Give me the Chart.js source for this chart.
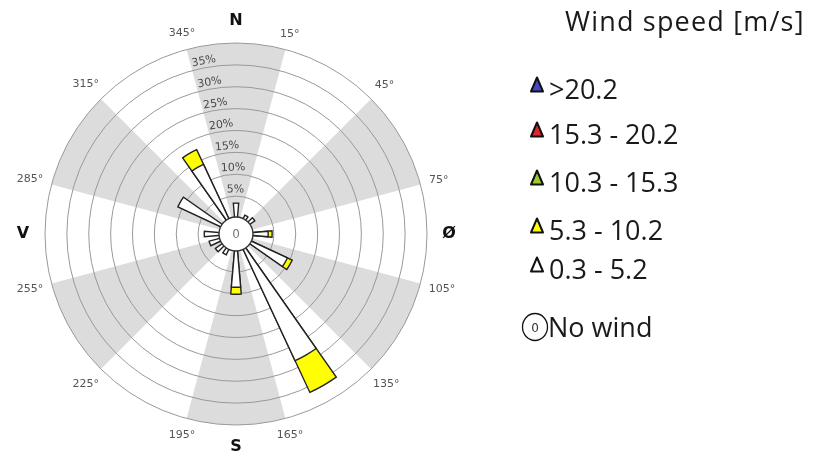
<!DOCTYPE html>
<html>
<head>
<meta charset="utf-8">
<script src="https://cdn.jsdelivr.net/npm/chart.js@4.4.0/dist/chart.umd.min.js"></script>
<style>
  html, body { margin: 0; padding: 0; background: #fff; }
  #wrap { position: relative; width: 832px; height: 457px; overflow: hidden; }
  #rose { position: absolute; left: 0; top: 0; }
  #legend { position: absolute; left: 0; top: 0; font-family: "Open Sans", sans-serif; color: #1a1a1a; }
  #legend .title { position: absolute; left: 565px; top: 5px; font-size: 27px; line-height: 32px; letter-spacing: 1.2px; white-space: nowrap; }
  #legend .item { position: absolute; white-space: nowrap; font-size: 27px; line-height: 32px; }
  #legend svg { position: absolute; }
</style>
</head>
<body>
<div id="wrap">
  <canvas id="rose" width="832" height="457"></canvas>
  <div id="legend"></div>
</div>
<script>
// 36 direction bins of 10 degrees
const directions = [0, 10, 20, 30, 40, 50, 60, 70, 80, 90, 100, 110, 120, 130, 140, 150, 160, 170,
  180, 190, 200, 210, 220, 230, 240, 250, 260, 270, 280, 290, 300, 310, 320, 330, 340, 350];

// frequency (%) per speed class and direction
const freq0to5 = [3.4, 0, 0, 1.1, 0, 1.6, 0, 0, 0, 3.7, 0, 0, 9.3, 0, 0, 28.3, 0, 0,
  8.5, 0, 0, 1.6, 0, 2.1, 0, 2.7, 0, 3.6, 0, 0, 11.0, 0, 0, 13.9, 0, 0];
const freq5to10 = [0, 0, 0, 0, 0, 0, 0, 0, 0, 0.9, 0, 0, 1.2, 0, 0, 8.0, 0, 0,
  1.6, 0, 0, 0, 0, 0, 0, 0, 0, 0, 0, 0, 0, 0, 0, 3.7, 0, 0];
const freq10to15 = new Array(36).fill(0);
const freq15to20 = new Array(36).fill(0);
const freqOver20 = new Array(36).fill(0);

const speedClasses = ["0.3 - 5.2", "5.3 - 10.2", "10.3 - 15.3", "15.3 - 20.2", ">20.2"];
const classColors = ["#ffffff", "#ffff00", "#9ccc2c", "#e3262a", "#4646c8"];

const pctTicks = [5, 10, 15, 20, 25, 30, 35, 40];
const degreeAngles = [15, 45, 75, 105, 135, 165, 195, 225, 255, 285, 315, 345];
const compassLabels = ["N", "Ø", "S", "V"];
const compassAngles = [0, 90, 180, 270];
const shadedSectors = [0, 60, 120, 180, 240, 300];
const calmLabel = "0";

// stack the classes: each ring is drawn from the centre out to its cumulative value
const classFreqs = [freq0to5, freq5to10, freq10to15, freq15to20, freqOver20];
let running = new Array(36).fill(0);
const datasets = classFreqs.map((f, c) => {
  running = running.map((v, i) => v + f[i]);
  return {
    label: speedClasses[c],
    data: running.map((v, i) => (f[i] > 0 ? +v.toFixed(2) : 0)),
    backgroundColor: classColors[c],
    borderColor: "#222",
    borderWidth: 1.4,
    borderJoinStyle: "miter"
  };
});

const rad = d => (d - 90) * Math.PI / 180;

const roseDecor = {
  id: "roseDecor",
  beforeDraw(chart) {
    const s = chart.scales.r, ctx = chart.ctx;
    const R = s.getDistanceFromCenterForValue(s.max);
    ctx.save();
    ctx.fillStyle = "#dcdcdc";
    shadedSectors.forEach(a => {
      ctx.beginPath();
      ctx.moveTo(s.xCenter, s.yCenter);
      ctx.arc(s.xCenter, s.yCenter, R, rad(a - 15), rad(a + 15));
      ctx.closePath();
      ctx.fill();
    });
    ctx.restore();
  },
  afterDatasetsDraw(chart) {
    const s = chart.scales.r, ctx = chart.ctx;
    const r0 = s.getDistanceFromCenterForValue(0) + 1;
    ctx.save();
    ctx.beginPath();
    ctx.arc(s.xCenter, s.yCenter, r0, 0, Math.PI * 2);
    ctx.fillStyle = "#fff";
    ctx.fill();
    ctx.lineWidth = 1.4;
    ctx.strokeStyle = "#333";
    ctx.stroke();
    ctx.fillStyle = "#777";
    ctx.font = "12px 'DejaVu Sans'";
    ctx.textAlign = "center";
    ctx.textBaseline = "middle";
    ctx.fillText(calmLabel, s.xCenter, s.yCenter + 1);
    ctx.restore();
  },
  afterDraw(chart) {
    const s = chart.scales.r, ctx = chart.ctx;
    const R = s.getDistanceFromCenterForValue(s.max);
    const cx = s.xCenter, cy = s.yCenter;
    ctx.save();
    // percentage labels along the 345 degree line
    ctx.font = "11px 'DejaVu Sans'";
    ctx.fillStyle = "#4a4a4a";
    ctx.textAlign = "center";
    ctx.textBaseline = "bottom";
    pctTicks.slice(0, -1).forEach(v => {
      const r = s.getDistanceFromCenterForValue(v) + 1;
      const txt = v + "%";
      const w = ctx.measureText(txt).width;
      const mid = -15 * Math.PI / 180 + (w / 2 + 1) / r;
      ctx.save();
      ctx.translate(cx, cy);
      ctx.rotate(mid);
      ctx.fillText(txt, 0, -r);
      ctx.restore();
    });
    // degree labels
    ctx.fillStyle = "#555";
    ctx.textBaseline = "middle";
    degreeAngles.forEach(a => {
      const txt = a + "°";
      const w = ctx.measureText(txt).width;
      const t = a * Math.PI / 180;
      const ext = Math.abs(Math.sin(t)) * w / 2 + Math.abs(Math.cos(t)) * 6;
      const r = R + 8 + ext;
      ctx.fillText(txt, cx + Math.sin(t) * r, cy - Math.cos(t) * r);
    });
    // compass letters
    ctx.font = "bold 16px 'DejaVu Sans'";
    ctx.fillStyle = "#111";
    compassLabels.forEach((l, i) => {
      const t = compassAngles[i] * Math.PI / 180;
      const r = R + 22;
      ctx.fillText(l, cx + Math.sin(t) * r, cy - Math.cos(t) * r);
    });
    ctx.restore();
  }
};

new Chart(document.getElementById("rose").getContext("2d"), {
  type: "polarArea",
  data: { labels: directions.map(d => d + "°"), datasets },
  options: {
    responsive: false,
    animation: false,
    layout: { padding: { left: 45, top: 43, right: 405, bottom: 32 } },
    plugins: { legend: { display: false }, tooltip: { enabled: false } },
    scales: {
      r: {
        min: -3.657,
        max: 40,
        startAngle: -5,
        afterBuildTicks: s => { s.ticks = pctTicks.map(v => ({ value: v })); },
        ticks: { display: false },
        grid: { color: "#999", lineWidth: 1 },
        angleLines: { display: false },
        pointLabels: { display: false }
      }
    }
  },
  plugins: [roseDecor]
});

// legend (top entry is the strongest class)
const ns = "http://www.w3.org/2000/svg";
const legend = document.getElementById("legend");
const title = document.createElement("div");
title.className = "title";
title.textContent = "Wind speed [m/s]";
legend.appendChild(title);
const legendY = [89, 134, 182, 230, 269];
speedClasses.slice().reverse().forEach((lbl, k) => {
  const c = classColors[classColors.length - 1 - k];
  const y = legendY[k];
  const svg = document.createElementNS(ns, "svg");
  svg.setAttribute("width", "16");
  svg.setAttribute("height", "17");
  svg.style.left = "529px";
  svg.style.top = (y - 13) + "px";
  const p = document.createElementNS(ns, "polygon");
  p.setAttribute("points", "8,1.5 14,15.5 2,15.5");
  p.setAttribute("fill", c);
  p.setAttribute("stroke", "#111");
  p.setAttribute("stroke-width", "2");
  p.setAttribute("stroke-linejoin", "round");
  svg.appendChild(p);
  legend.appendChild(svg);
  const d = document.createElement("div");
  d.className = "item";
  d.style.left = "549px";
  d.style.top = (y - 16) + "px";
  d.textContent = lbl;
  legend.appendChild(d);
});
// no wind entry
const calm = document.createElementNS(ns, "svg");
calm.setAttribute("width", "28");
calm.setAttribute("height", "30");
calm.style.left = "521px";
calm.style.top = "312px";
calm.innerHTML = '<ellipse cx="14" cy="15" rx="12.5" ry="13.5" fill="#fff" stroke="#111" stroke-width="1.3"/>' +
  '<text x="14" y="19.5" text-anchor="middle" font-family="DejaVu Sans" font-size="12" fill="#333">' + calmLabel + '</text>';
legend.appendChild(calm);
const nw = document.createElement("div");
nw.className = "item";
nw.style.left = "548px";
nw.style.top = "311px";
nw.textContent = "No wind";
legend.appendChild(nw);
</script>
</body>
</html>
